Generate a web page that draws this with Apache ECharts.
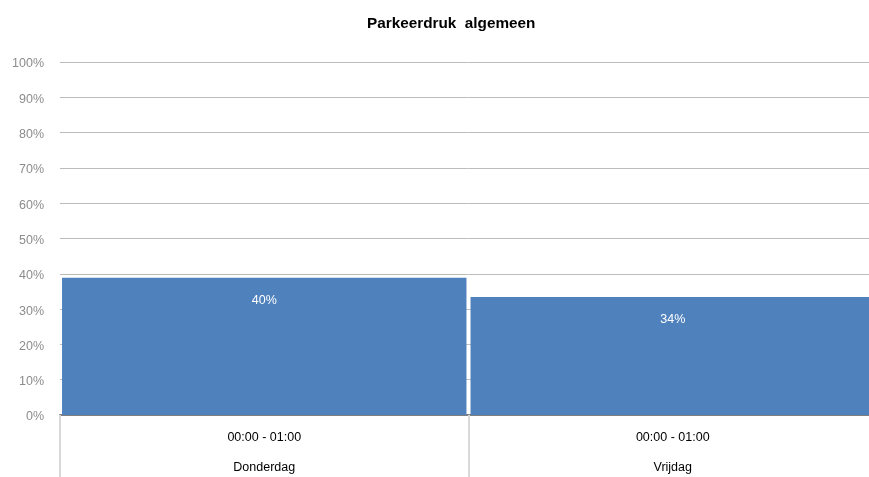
<!DOCTYPE html>
<html><head><meta charset="utf-8">
<script src="https://cdn.jsdelivr.net/npm/echarts@6/dist/echarts.min.js"></script>
<style>html,body{margin:0;padding:0;background:#fff;overflow:hidden;width:869px;height:477px}#c{width:877px;height:477px}</style>
</head><body><div id="c"></div>
<script>
var timeSlots = ["00:00 - 01:00", "00:00 - 01:00"];
var days = ["Donderdag", "Vrijdag"];
var values = [38.9, 33.4];
var barLabels = ["40%", "34%"];
var yTicks = [0, 10, 20, 30, 40, 50, 60, 70, 80, 90, 100];

var chart = echarts.init(document.getElementById('c'));
chart.setOption({
  animation: false,
  title: {
    text: 'Parkeerdruk  algemeen',
    left: 362, top: 11,
    textStyle: {fontFamily: 'Liberation Sans, Arial', fontWeight: 'bold', fontSize: 15.3, color: '#000'}
  },
  grid: {left: 60, right: 0, top: 62, bottom: 62},
  xAxis: [{
    type: 'category', data: timeSlots, position: 'bottom',
    axisLine: {show: true, lineStyle: {color: '#7f7f7f', width: 2}},
    axisTick: {show: true, interval: 0, length: 62, lineStyle: {color: '#d9d9d9', width: 2}},
    axisLabel: {interval: 0, margin: 16, color: '#000', fontFamily: 'Liberation Sans, Arial', fontSize: 12.5}
  }, {
    type: 'category', data: days, position: 'bottom', offset: 30,
    axisLine: {show: false}, axisTick: {show: false},
    axisLabel: {interval: 0, margin: 16, color: '#000', fontFamily: 'Liberation Sans, Arial', fontSize: 12.5}
  }],
  yAxis: {
    type: 'value', min: 0, max: 100, interval: 10,
    axisLine: {show: false}, axisTick: {show: false},
    splitLine: {lineStyle: {color: '#bcbcbc', width: 1}},
    axisLabel: {margin: 16, color: '#8c8c8c', fontFamily: 'Liberation Sans, Arial', fontSize: 12.5,
      rich: {a: {padding: [4, 0, 0, 0], color: '#8c8c8c', fontFamily: 'Liberation Sans, Arial', fontSize: 12.5}},
      formatter: function (v) { return yTicks.indexOf(v) >= 0 ? '{a|' + v + '%}' : ''; }}
  },
  series: [{
    type: 'bar', data: values, xAxisIndex: 0,
    barCategoryGap: '1%',
    itemStyle: {color: '#4f81bd'},
    label: {show: true, position: 'insideTop', distance: 16, color: '#fff',
      fontFamily: 'Liberation Sans, Arial', fontSize: 12.5,
      formatter: function (p) { return barLabels[p.dataIndex]; }}
  }]
});
</script></body></html>
